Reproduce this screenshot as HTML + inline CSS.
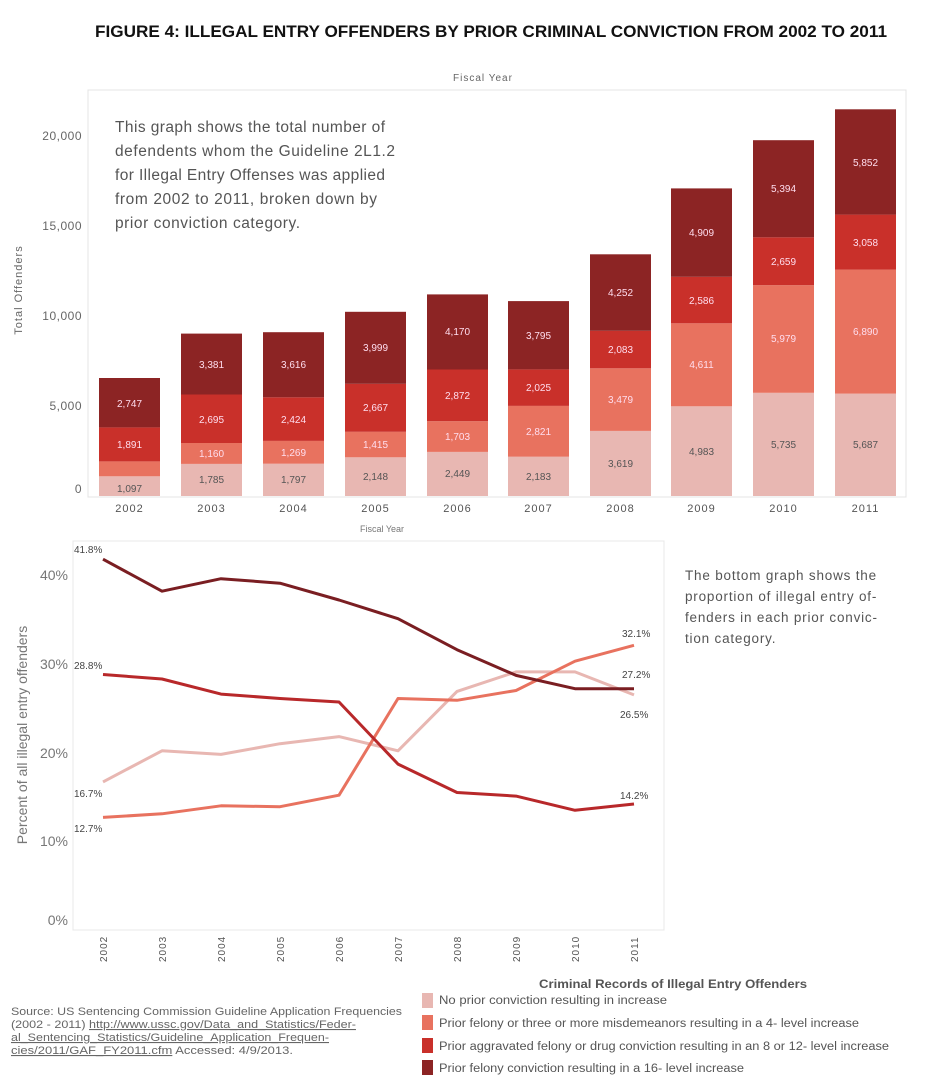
<!DOCTYPE html>
<html><head><meta charset="utf-8"><style>
body{margin:0;background:#fff;}
svg{display:block;font-family:"Liberation Sans",sans-serif;}
</style></head><body>
<svg width="946" height="1082" viewBox="0 0 946 1082">
<text x="95" y="37" font-size="17" font-weight="bold" fill="#111" textLength="792" lengthAdjust="spacingAndGlyphs">FIGURE 4: ILLEGAL ENTRY OFFENDERS BY PRIOR CRIMINAL CONVICTION FROM 2002 TO 2011</text>
<text x="483" y="81" text-anchor="middle" font-size="10" fill="#666" letter-spacing="1">Fiscal Year</text>
<rect x="88" y="90" width="818" height="407" fill="#fff" stroke="#e4e4e4"/>
<g font-size="12" fill="#666" text-anchor="end" letter-spacing="0.5">
<text x="82" y="140">20,000</text><text x="82" y="230">15,000</text><text x="82" y="320">10,000</text><text x="82" y="410">5,000</text><text x="82" y="493">0</text></g>
<text transform="translate(22,290) rotate(-90)" text-anchor="middle" font-size="11" fill="#666" letter-spacing="1">Total  Offenders</text>
<g font-size="15.5" fill="#555">
<text x="115" y="132" textLength="270">This graph shows the total number of</text>
<text x="115" y="156" textLength="280">defendents whom the Guideline 2L1.2</text>
<text x="115" y="180" textLength="270">for Illegal Entry Offenses was applied</text>
<text x="115" y="204" textLength="262">from 2002 to 2011, broken down by</text>
<text x="115" y="228" textLength="185">prior conviction category.</text></g>
<g>
<rect x="99" y="476.3" width="61" height="19.7" fill="#e8b7b2"/><rect x="99" y="461.4" width="61" height="14.9" fill="#e8725f"/><rect x="99" y="427.4" width="61" height="34" fill="#c9302a"/><rect x="99" y="378" width="61" height="49.4" fill="#8c2424"/>
<rect x="181" y="463.9" width="61" height="32.1" fill="#e8b7b2"/><rect x="181" y="443" width="61" height="20.9" fill="#e8725f"/><rect x="181" y="394.5" width="61" height="48.5" fill="#c9302a"/><rect x="181" y="333.6" width="61" height="60.9" fill="#8c2424"/>
<rect x="263" y="463.7" width="61" height="32.3" fill="#e8b7b2"/><rect x="263" y="440.9" width="61" height="22.8" fill="#e8725f"/><rect x="263" y="397.3" width="61" height="43.6" fill="#c9302a"/><rect x="263" y="332.2" width="61" height="65.1" fill="#8c2424"/>
<rect x="345" y="457.3" width="61" height="38.7" fill="#e8b7b2"/><rect x="345" y="431.8" width="61" height="25.5" fill="#e8725f"/><rect x="345" y="383.8" width="61" height="48" fill="#c9302a"/><rect x="345" y="311.8" width="61" height="72" fill="#8c2424"/>
<rect x="427" y="451.9" width="61" height="44.1" fill="#e8b7b2"/><rect x="427" y="421.2" width="61" height="30.7" fill="#e8725f"/><rect x="427" y="369.5" width="61" height="51.7" fill="#c9302a"/><rect x="427" y="294.4" width="61" height="75.1" fill="#8c2424"/>
<rect x="508" y="456.7" width="61" height="39.3" fill="#e8b7b2"/><rect x="508" y="405.9" width="61" height="50.8" fill="#e8725f"/><rect x="508" y="369.4" width="61" height="36.5" fill="#c9302a"/><rect x="508" y="301.1" width="61" height="68.3" fill="#8c2424"/>
<rect x="590" y="430.9" width="61" height="65.1" fill="#e8b7b2"/><rect x="590" y="368.3" width="61" height="62.6" fill="#e8725f"/><rect x="590" y="330.8" width="61" height="37.5" fill="#c9302a"/><rect x="590" y="254.3" width="61" height="76.5" fill="#8c2424"/>
<rect x="671" y="406.3" width="61" height="89.7" fill="#e8b7b2"/><rect x="671" y="323.3" width="61" height="83" fill="#e8725f"/><rect x="671" y="276.8" width="61" height="46.5" fill="#c9302a"/><rect x="671" y="188.4" width="61" height="88.4" fill="#8c2424"/>
<rect x="753" y="392.8" width="61" height="103.2" fill="#e8b7b2"/><rect x="753" y="285.2" width="61" height="107.6" fill="#e8725f"/><rect x="753" y="237.3" width="61" height="47.9" fill="#c9302a"/><rect x="753" y="140.2" width="61" height="97.1" fill="#8c2424"/>
<rect x="835" y="393.6" width="61" height="102.4" fill="#e8b7b2"/><rect x="835" y="269.6" width="61" height="124" fill="#e8725f"/><rect x="835" y="214.6" width="61" height="55" fill="#c9302a"/><rect x="835" y="109.3" width="61" height="105.3" fill="#8c2424"/>
</g>
<g font-size="10" text-anchor="middle" fill="#555">
<text x="129.5" y="492">1,097</text><text x="211.5" y="483">1,785</text><text x="293.5" y="483">1,797</text><text x="375.5" y="480">2,148</text><text x="457.5" y="477">2,449</text><text x="538.5" y="480">2,183</text><text x="620.5" y="467">3,619</text><text x="701.5" y="455">4,983</text><text x="783.5" y="448">5,735</text><text x="865.5" y="448">5,687</text></g>
<g font-size="10" text-anchor="middle" fill="#fde">
<text x="211.5" y="457">1,160</text><text x="293.5" y="456">1,269</text><text x="375.5" y="448">1,415</text><text x="457.5" y="440">1,703</text><text x="538.5" y="435">2,821</text><text x="620.5" y="403">3,479</text><text x="701.5" y="368">4,611</text><text x="783.5" y="342">5,979</text><text x="865.5" y="335">6,890</text>
<text x="129.5" y="448">1,891</text><text x="211.5" y="423">2,695</text><text x="293.5" y="423">2,424</text><text x="375.5" y="411">2,667</text><text x="457.5" y="399">2,872</text><text x="538.5" y="391">2,025</text><text x="620.5" y="353">2,083</text><text x="701.5" y="304">2,586</text><text x="783.5" y="265">2,659</text><text x="865.5" y="246">3,058</text>
<text x="129.5" y="407">2,747</text><text x="211.5" y="368">3,381</text><text x="293.5" y="368">3,616</text><text x="375.5" y="351">3,999</text><text x="457.5" y="335">4,170</text><text x="538.5" y="339">3,795</text><text x="620.5" y="296">4,252</text><text x="701.5" y="236">4,909</text><text x="783.5" y="192">5,394</text><text x="865.5" y="166">5,852</text></g>
<g font-size="11" text-anchor="middle" fill="#555" letter-spacing="1">
<text x="129.5" y="512">2002</text><text x="211.5" y="512">2003</text><text x="293.5" y="512">2004</text><text x="375.5" y="512">2005</text><text x="457.5" y="512">2006</text><text x="538.5" y="512">2007</text><text x="620.5" y="512">2008</text><text x="701.5" y="512">2009</text><text x="783.5" y="512">2010</text><text x="865.5" y="512">2011</text></g>
<text x="382" y="532" text-anchor="middle" font-size="9" fill="#777">Fiscal Year</text>
<rect x="73" y="541" width="591" height="389" fill="#fff" stroke="#e8e8e8"/>
<g font-size="14" fill="#777" text-anchor="end">
<text x="68" y="580">40%</text><text x="68" y="669">30%</text><text x="68" y="758">20%</text><text x="68" y="846">10%</text><text x="68" y="925">0%</text></g>
<text transform="translate(27,735) rotate(-90)" text-anchor="middle" font-size="14" fill="#777">Percent of all illegal entry offenders</text>
<g fill="none" stroke-width="3" stroke-linejoin="round">
<polyline stroke="#e8b7b2" points="103,781.9 162,750.8 221,754.4 280,743.7 339,736.6 398,750.8 457,691.4 516,671.9 575,671.9 634,694.9"/>
<polyline stroke="#e8725f" points="103,817.4 162,813.8 221,805.8 280,806.7 339,795.2 398,698.5 457,700.3 516,690.5 575,661.2 634,645.3"/>
<polyline stroke="#b8282a" points="103,674.5 162,679 221,694.1 280,698.5 339,702 398,764.1 457,792.5 516,796.1 575,810.3 634,804"/>
<polyline stroke="#7a1e22" points="103,559.2 162,591.2 221,578.7 280,583.2 339,600 398,618.7 457,649.7 516,675.4 575,688.7 634,688.7"/>
</g>
<g font-size="10" fill="#444">
<text x="74" y="553">41.8%</text><text x="74" y="669">28.8%</text><text x="74" y="797">16.7%</text><text x="74" y="832">12.7%</text>
<text x="622" y="637">32.1%</text><text x="622" y="678">27.2%</text><text x="620" y="718">26.5%</text><text x="620" y="799">14.2%</text></g>
<g font-size="10" fill="#555" letter-spacing="1">
<text transform="translate(107,962) rotate(-90)">2002</text><text transform="translate(166,962) rotate(-90)">2003</text><text transform="translate(225,962) rotate(-90)">2004</text><text transform="translate(284,962) rotate(-90)">2005</text><text transform="translate(343,962) rotate(-90)">2006</text><text transform="translate(402,962) rotate(-90)">2007</text><text transform="translate(461,962) rotate(-90)">2008</text><text transform="translate(520,962) rotate(-90)">2009</text><text transform="translate(579,962) rotate(-90)">2010</text><text transform="translate(638,962) rotate(-90)">2011</text></g>
<g font-size="13.5" fill="#555" letter-spacing="0.8">
<text x="685" y="580">The bottom graph shows the</text><text x="685" y="601">proportion of illegal entry of-</text><text x="685" y="622">fenders in each prior convic-</text><text x="685" y="643">tion category.</text></g>
<text x="288" y="988" font-size="11.5" font-weight="bold" fill="#555" transform="translate(0,0)" dx="0"><tspan x="539" textLength="268" lengthAdjust="spacingAndGlyphs">Criminal Records of Illegal Entry Offenders</tspan></text>
<rect x="422" y="993" width="11" height="15" fill="#e8b7b2"/><rect x="422" y="1015" width="11" height="15" fill="#e8725f"/><rect x="422" y="1038" width="11" height="15" fill="#c9302a"/><rect x="422" y="1060" width="11" height="15" fill="#8c2424"/>
<g font-size="11.5" fill="#555">
<text x="439" y="1004" textLength="228" lengthAdjust="spacingAndGlyphs">No prior conviction resulting in increase</text>
<text x="439" y="1027" textLength="420" lengthAdjust="spacingAndGlyphs">Prior felony or three or more misdemeanors resulting in a 4- level increase</text>
<text x="439" y="1050" textLength="450" lengthAdjust="spacingAndGlyphs">Prior aggravated felony or drug conviction resulting in an 8 or 12- level increase</text>
<text x="439" y="1072" textLength="305" lengthAdjust="spacingAndGlyphs">Prior felony conviction resulting in a 16- level increase</text></g>
<g font-size="11" fill="#666">
<text x="11" y="1015" textLength="391" lengthAdjust="spacingAndGlyphs">Source: US Sentencing Commission Guideline Application Frequencies</text>
<text x="11" y="1028" textLength="345" lengthAdjust="spacingAndGlyphs">(2002 -  2011) <tspan text-decoration="underline">http://www.ussc.gov/Data_and_Statistics/Feder-</tspan></text>
<text x="11" y="1041" textLength="318" lengthAdjust="spacingAndGlyphs" text-decoration="underline">al_Sentencing_Statistics/Guideline_Application_Frequen-</text>
<text x="11" y="1054" textLength="282" lengthAdjust="spacingAndGlyphs"><tspan text-decoration="underline">cies/2011/GAF_FY2011.cfm</tspan> Accessed: 4/9/2013.</text></g>
</svg>
</body></html>
